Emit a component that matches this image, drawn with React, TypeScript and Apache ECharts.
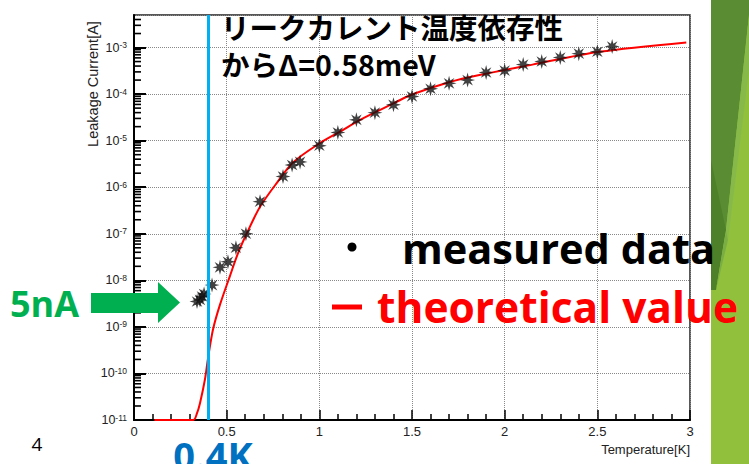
import React, { useEffect, useRef } from "react";
import * as echarts from "echarts";

// Measured leakage current (A) vs temperature (K)
const measuredT = [0.34, 0.356, 0.367, 0.378, 0.421, 0.464, 0.507, 0.55, 0.604, 0.68, 0.804, 0.853, 0.896, 1.0, 1.1, 1.2, 1.3, 1.4, 1.5, 1.6, 1.7, 1.8, 1.9, 2.0, 2.1, 2.2, 2.3, 2.4, 2.5, 2.58];
const measuredI = [3.5e-9, 3.8e-9, 4.5e-9, 5.1e-9, 7.9e-9, 1.9e-8, 2.5e-8, 5.0e-8, 1.0e-7, 4.9e-7, 1.7e-6, 3.0e-6, 3.5e-6, 7.8e-6, 1.5e-5, 2.8e-5, 4.0e-5, 5.9e-5, 8.9e-5, 1.3e-4, 1.7e-4, 2.0e-4, 2.9e-4, 3.2e-4, 4.3e-4, 5.0e-4, 6.1e-4, 7.4e-4, 8.1e-4, 1.05e-3];

// Theoretical curve (A) vs temperature (K)
const theoryT = [0.11, 0.2, 0.32, 0.34, 0.356, 0.383, 0.4, 0.426, 0.464, 0.518, 0.561, 0.61, 0.68, 0.772, 0.858, 1.0, 1.11, 1.22, 1.4, 1.5, 1.7, 1.87, 2.15, 2.51, 2.98];
const theoryI = [1e-11, 1e-11, 1e-11, 1.4e-11, 2.3e-11, 7.5e-11, 2.2e-10, 8.7e-10, 3.0e-9, 1.25e-8, 3.8e-8, 1.05e-7, 3.8e-7, 1.26e-6, 3.4e-6, 8.7e-6, 1.55e-5, 2.8e-5, 6.3e-5, 9.8e-5, 1.8e-4, 2.6e-4, 4.3e-4, 8.1e-4, 1.29e-3];

// Axes
const xTicks = [0, 0.5, 1, 1.5, 2, 2.5, 3];
const yMinExp = -11;
const yMaxCurrent = 5e-3;
const gapT = 0.4;

const titleLines = ["リークカレント温度依存性", "からΔ=0.58meV"];
const legendMeasured = "measured data";
const legendTheory = "theoretical value";

function starPath(): string {
  let d = "";
  for (let i = 0; i < 16; i++) {
    const a = (i * Math.PI) / 8 - Math.PI / 2;
    const r = i % 2 === 0 ? 10 : 4.2;
    const x = (10 + r * Math.cos(a)).toFixed(2);
    const y = (10 + r * Math.sin(a)).toFixed(2);
    d += (i === 0 ? "M" : "L") + x + " " + y + " ";
  }
  return "path://" + d + "Z";
}

export default function App() {
  const ref = useRef<HTMLDivElement>(null);
  useEffect(() => {
    if (!ref.current) return;
    const chart = echarts.init(ref.current, null, { renderer: "svg" });
    const yMax = Math.log10(yMaxCurrent);
    const minorY: number[][] = [];
    for (let e = yMinExp; e < Math.ceil(yMax); e++) {
      for (let k = 2; k <= 9; k++) {
        const v = e + Math.log10(k);
        if (v < yMax) minorY.push([0, v]);
      }
    }
    const font = "Liberation Sans";
    chart.setOption({
      animation: false,
      backgroundColor: "#ffffff",
      grid: {
        left: 134,
        right: 59,
        top: 15,
        bottom: 44,
        show: true,
        borderColor: "#222",
        borderWidth: 1.5,
        outerBoundsMode: "none",
      },
      xAxis: {
        type: "value",
        min: xTicks[0],
        max: xTicks[xTicks.length - 1],
        interval: 0.5,
        axisLine: { show: true, onZero: false, lineStyle: { color: "#000", width: 2 } },
        axisTick: { show: true, inside: true, length: 10, lineStyle: { color: "#000", width: 1.5 } },
        minorTick: { show: true, splitNumber: 5, length: 6, lineStyle: { color: "#000", width: 1.5 } },
        axisLabel: { color: "#222", fontFamily: font, fontSize: 13, margin: 5 },
        splitLine: { show: true, lineStyle: { color: "#888", type: "dotted", width: 1 } },
      },
      yAxis: {
        type: "value",
        min: yMinExp,
        max: yMax,
        interval: 1,
        axisLine: { show: true, onZero: false, lineStyle: { color: "#000", width: 2 } },
        axisTick: { show: true, inside: true, length: 12, lineStyle: { color: "#000", width: 2 } },
        axisLabel: {
          showMaxLabel: false,
          margin: 7,
          formatter: (v: number) => `{b|10}{s|${Math.round(v)}}`,
          rich: {
            b: { fontFamily: font, fontSize: 12.5, color: "#222", lineHeight: 14 },
            s: { fontFamily: font, fontSize: 8.5, color: "#222", verticalAlign: "top", lineHeight: 8 },
          },
        },
        splitLine: { show: true, lineStyle: { color: "#888", type: "dotted", width: 1 } },
      },
      series: [
        {
          type: "custom",
          coordinateSystem: "cartesian2d",
          silent: true,
          z: 5,
          data: minorY,
          encode: { x: 0, y: 1 },
          renderItem: (params: any, api: any) => {
            const p = api.coord([0, api.value(1)]);
            return {
              type: "line",
              shape: { x1: p[0], y1: p[1], x2: p[0] + 7, y2: p[1] },
              style: { stroke: "#000", lineWidth: 1.6 },
            };
          },
        },
        {
          type: "line",
          name: "theory",
          data: theoryT.map((t, i) => [t, Math.log10(theoryI[i])]),
          showSymbol: false,
          smooth: 0.3,
          lineStyle: { color: "#ff0000", width: 2 },
          z: 3,
          markLine: {
            silent: true,
            symbol: "none",
            label: { show: false },
            lineStyle: { color: "#00b0f0", width: 3, type: "solid" },
            data: [{ xAxis: gapT }],
          },
        },
        {
          type: "scatter",
          name: "measured",
          data: measuredT.map((t, i) => [t, Math.log10(measuredI[i])]),
          symbol: starPath(),
          symbolSize: 15,
          itemStyle: { color: "#111" },
          z: 4,
        },
      ],
      graphic: [
        { type: "rect", z: 0, shape: { x: 711, y: 0, width: 38, height: 464 }, style: { fill: "#90c03c" } },
        { type: "polygon", z: 0, shape: { points: [[711, 0], [749, 0], [749, 15], [726, 230], [711, 290]] }, style: { fill: "#5a8c34" } },
        { type: "polygon", z: 0, shape: { points: [[749, 15], [749, 70], [728, 240], [726, 230]] }, style: { fill: "#86b94a" } },
        { type: "polygon", z: 0, shape: { points: [[711, 160], [726, 230], [716, 290], [711, 290]] }, style: { fill: "#4d8029" } },
        { type: "polygon", z: 0, shape: { points: [[726, 230], [728, 240], [716, 290]] }, style: { fill: "#7aae45" } },
        {
          type: "text", z: 100, x: 221, y: 26,
          style: { text: titleLines[0], fontFamily: "Noto Sans CJK JP", fontWeight: "bold", fontSize: 28.5, fill: "#000", align: "left", verticalAlign: "middle" },
        },
        {
          type: "text", z: 100, x: 221, y: 63,
          style: { text: titleLines[1], fontFamily: "Noto Sans CJK JP", fontWeight: "bold", fontSize: 28.5, fill: "#000", align: "left", verticalAlign: "middle" },
        },
        { type: "circle", z: 100, shape: { cx: 352, cy: 247, r: 4.5 }, style: { fill: "#000" } },
        {
          type: "text", z: 100, x: 402, y: 248,
          style: { text: legendMeasured, fontFamily: "Open Sans", fontWeight: "bold", fontSize: 41.5, fill: "#000", align: "left", verticalAlign: "middle" },
        },
        { type: "rect", z: 100, shape: { x: 332, y: 304.5, width: 30, height: 5 }, style: { fill: "#ff0000" } },
        {
          type: "text", z: 100, x: 377, y: 306,
          style: { text: legendTheory, fontFamily: "Open Sans", fontWeight: "bold", fontSize: 42.5, fill: "#ff0000", align: "left", verticalAlign: "middle" },
        },
        {
          type: "text", z: 100, x: 10, y: 303,
          style: { text: "5nA", fontFamily: "Open Sans", fontWeight: "bold", fontSize: 36, fill: "#00b050", align: "left", verticalAlign: "middle" },
        },
        {
          type: "polygon", z: 100,
          shape: { points: [[91, 293], [158, 293], [158, 282], [180, 302.5], [158, 323], [158, 313], [91, 313]] },
          style: { fill: "#00b050" },
        },
        {
          type: "text", z: 100, x: 213, y: 455,
          style: { text: "0.4K", fontFamily: "Open Sans", fontWeight: "bold", fontSize: 38, fill: "#0070c0", align: "center", verticalAlign: "middle" },
        },
        {
          type: "text", z: 100, x: 37, y: 444,
          style: { text: "4", fontFamily: "Open Sans", fontSize: 19, fill: "#000", align: "center", verticalAlign: "middle" },
        },
        {
          type: "text", z: 100, x: 690, y: 449,
          style: { text: "Temperature[K]", fontFamily: font, fontSize: 13, fill: "#222", align: "right", verticalAlign: "middle" },
        },
        {
          type: "text", z: 100, x: 93, y: 84, rotation: Math.PI / 2,
          style: { text: "Leakage Current[A]", fontFamily: font, fontSize: 14.5, fill: "#222", align: "center", verticalAlign: "middle" },
        },
      ],
    });
    return () => chart.dispose();
  }, []);
  return (
    <div
      ref={ref}
      style={{ position: "fixed", left: 0, top: 0, width: 749, height: 464, background: "#fff" }}
    />
  );
}
